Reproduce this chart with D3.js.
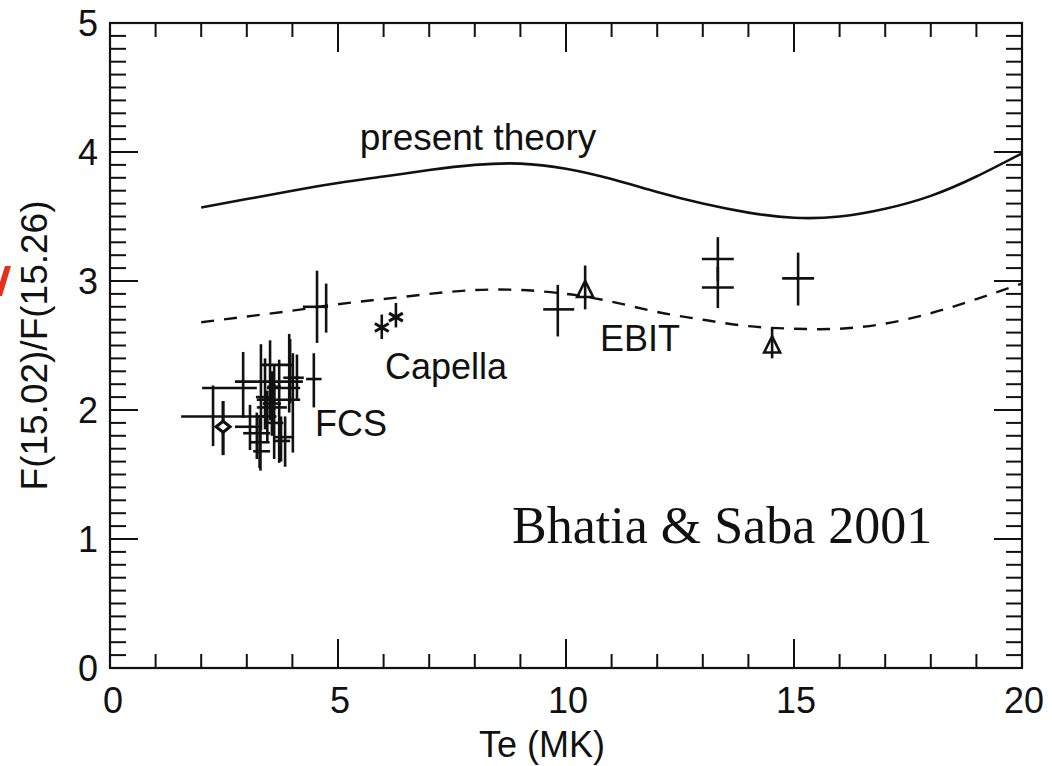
<!DOCTYPE html>
<html><head><meta charset="utf-8">
<script src="https://cdn.jsdelivr.net/npm/d3@7"></script>
<style>
html,body{margin:0;padding:0;background:#fff;}
svg{display:block;}
text{font-family:"Liberation Sans",Arial,Helvetica,sans-serif;fill:#111;}
</style></head>
<body>
<svg id="chart" width="1052" height="766"></svg>
<script>
// ---- data ----
const xTickLabels = [0, 5, 10, 15, 20];
const yTickLabels = [0, 1, 2, 3, 4, 5];

// "present theory" (solid) curve
const theoryT = [2, 3, 4, 5, 6, 7, 8, 9, 10, 11, 12, 13, 14, 15, 16, 17, 18, 19, 20];
const theoryR = [3.57, 3.635, 3.70, 3.76, 3.81, 3.86, 3.90, 3.91, 3.87, 3.79, 3.69, 3.60, 3.53, 3.49, 3.50, 3.56, 3.66, 3.81, 3.99];
// dashed curve
const dashT = [2, 3, 4, 5, 6, 7, 8, 9, 10, 11, 12, 13, 14, 15, 16, 17, 18, 19, 20];
const dashR = [2.68, 2.725, 2.77, 2.82, 2.86, 2.90, 2.93, 2.93, 2.90, 2.84, 2.76, 2.70, 2.65, 2.63, 2.63, 2.67, 2.75, 2.86, 2.98];

// cross data points with error bars
const crossX   = [9.82, 13.33, 13.33, 15.09, 4.54, 4.74, 4.47, 2.26, 2.92, 3.31, 3.51, 3.93, 4.01, 4.10, 3.07, 3.22, 3.30, 3.71, 3.84, 3.60, 3.45, 3.75, 3.40, 3.60, 3.28, 3.95, 3.55];
const crossY   = [2.78, 3.17, 2.95, 3.02, 2.80, 2.80, 2.24, 1.95, 2.17, 2.22, 2.35, 2.17, 2.08, 2.25, 1.87, 1.82, 1.68, 2.02, 1.79, 2.18, 1.95, 1.76, 2.10, 1.90, 1.75, 2.25, 2.05];
const crossXlo = [9.50, 12.98, 12.98, 14.74, 4.23, 4.70, 4.30, 1.56, 2.02, 2.74, 3.29, 3.44, 3.22, 3.95, 2.74, 2.92, 3.14, 3.22, 3.62, 3.45, 3.25, 3.60, 3.20, 3.40, 3.05, 3.80, 3.35];
const crossXhi = [10.18, 13.68, 13.68, 15.44, 4.78, 4.78, 4.64, 3.46, 3.22, 4.23, 4.01, 4.17, 4.17, 4.25, 3.33, 3.51, 3.51, 3.88, 4.01, 3.75, 3.65, 3.95, 3.60, 3.80, 3.50, 4.15, 3.75];
const crossYlo = [2.57, 3.00, 2.79, 2.81, 2.52, 2.60, 2.02, 1.72, 1.94, 1.84, 1.92, 1.98, 1.67, 2.08, 1.69, 1.62, 1.53, 1.59, 1.56, 2.00, 1.75, 1.60, 1.85, 1.62, 1.55, 2.05, 1.80];
const crossYhi = [2.97, 3.34, 3.11, 3.22, 3.08, 2.98, 2.44, 2.19, 2.45, 2.51, 2.54, 2.59, 2.44, 2.43, 2.04, 1.98, 1.84, 2.39, 1.95, 2.35, 2.15, 1.95, 2.40, 2.20, 1.95, 2.55, 2.30];

// diamond (FCS)
const diamondX = [2.48], diamondY = [1.87], diamondYlo = [1.65], diamondYhi = [2.07];
// triangles (EBIT)
const triX = [10.42, 14.52], triY = [2.93, 2.50], triYlo = [2.78, 2.40], triYhi = [3.12, 2.64];
// asterisks (Capella)
const astX = [5.96, 6.27], astY = [2.64, 2.72], astYlo = [2.55, 2.64], astYhi = [2.74, 2.83];

// ---- layout ----
const L = 110, R = 1022, T = 23, B = 668;
const svg = d3.select("#chart");
const x = d3.scaleLinear().domain([0, 20]).range([L, R]);
const y = d3.scaleLinear().domain([0, 5]).range([B, T]);
const ink = "#111";

// ticks (inward, mirrored)
const g = svg.append("g");
const majorX = 29, minorX = 14, majorY = 28, minorY = 16;
d3.range(1, 20, 1).forEach(v => {
  const len = (v % 5 === 0) ? majorX : minorX;
  g.append("line").attr("x1", x(v)).attr("x2", x(v)).attr("y1", B).attr("y2", B - len).attr("stroke", ink).attr("stroke-width", 2);
  g.append("line").attr("x1", x(v)).attr("x2", x(v)).attr("y1", T).attr("y2", T + len).attr("stroke", ink).attr("stroke-width", 2);
});
d3.range(1, 50, 1).forEach(i => {
  const v = i / 10;
  const len = (i % 10 === 0) ? majorY : minorY;
  g.append("line").attr("y1", y(v)).attr("y2", y(v)).attr("x1", L).attr("x2", L + len).attr("stroke", ink).attr("stroke-width", 2);
  g.append("line").attr("y1", y(v)).attr("y2", y(v)).attr("x1", R).attr("x2", R - len).attr("stroke", ink).attr("stroke-width", 2);
});
// frame
svg.append("rect").attr("x", L).attr("y", T).attr("width", R - L).attr("height", B - T)
  .attr("fill", "none").attr("stroke", ink).attr("stroke-width", 2.2);

// tick labels
svg.selectAll(".xl").data(xTickLabels).enter().append("text")
  .attr("x", d => x(d) + (d === 0 ? 3 : 2)).attr("y", 713).attr("text-anchor", "middle")
  .attr("font-size", 36).text(d => d);
svg.selectAll(".yl").data(yTickLabels).enter().append("text")
  .attr("x", 98).attr("y", d => y(d) + 13).attr("text-anchor", "end")
  .attr("font-size", 36).text(d => d);

// axis titles
svg.append("text").attr("x", 542).attr("y", 757).attr("text-anchor", "middle").attr("font-size", 36).text("Te (MK)");
svg.append("text").attr("transform", "translate(47," + ((T + B) / 2) + ") rotate(-90)")
  .attr("text-anchor", "middle").attr("font-size", 37).text("F(15.02)/F(15.26)");

// red cropped mark at the left edge
svg.append("path").attr("d", "M5,266L11,266L2,296L0,296L0,282Z").attr("fill", "#e4301c");

// curves
const line = d3.line().x(d => x(d[0])).y(d => y(d[1])).curve(d3.curveNatural);
svg.append("path").datum(d3.zip(theoryT, theoryR)).attr("d", line)
  .attr("fill", "none").attr("stroke", ink).attr("stroke-width", 2.6);
svg.append("path").datum(d3.zip(dashT, dashR)).attr("d", line)
  .attr("fill", "none").attr("stroke", ink).attr("stroke-width", 2.4).attr("stroke-dasharray", "13,10");

// cross error bars
const pts = svg.append("g").attr("stroke", ink).attr("stroke-width", 2.6).attr("fill", "none");
crossX.forEach((cx, i) => {
  pts.append("line").attr("x1", x(crossXlo[i])).attr("x2", x(crossXhi[i])).attr("y1", y(crossY[i])).attr("y2", y(crossY[i]));
  pts.append("line").attr("x1", x(cx)).attr("x2", x(cx)).attr("y1", y(crossYlo[i])).attr("y2", y(crossYhi[i]));
});
// diamond
diamondX.forEach((cx, i) => {
  pts.append("line").attr("x1", x(cx)).attr("x2", x(cx)).attr("y1", y(diamondYlo[i])).attr("y2", y(diamondYhi[i])).attr("stroke-width", 3.2);
  pts.append("path").attr("transform", `translate(${x(cx)},${y(diamondY[i])})`)
    .attr("d", "M-7,0L0,-5.5L7,0L0,5.5Z").attr("fill", "#fff").attr("stroke-width", 3);
});
// triangles
triX.forEach((cx, i) => {
  pts.append("line").attr("x1", x(cx)).attr("x2", x(cx)).attr("y1", y(triYlo[i])).attr("y2", y(triYhi[i]));
  pts.append("path").attr("transform", `translate(${x(cx)},${y(triY[i])})`)
    .attr("d", "M-8,7L0,-9L8,7Z").attr("fill", "none").attr("stroke-width", 2.6);
});
// asterisks
astX.forEach((cx, i) => {
  pts.append("line").attr("x1", x(cx)).attr("x2", x(cx)).attr("y1", y(astYlo[i])).attr("y2", y(astYhi[i]));
  const p = d3.path();
  [30, 150].forEach(a => {
    const r = 8, rad = a * Math.PI / 180;
    p.moveTo(-r * Math.cos(rad), -r * Math.sin(rad));
    p.lineTo(r * Math.cos(rad), r * Math.sin(rad));
  });
  pts.append("path").attr("transform", `translate(${x(cx)},${y(astY[i])})`).attr("d", p.toString()).attr("stroke-width", 3);
});

// annotations
svg.append("text").attr("x", 478).attr("y", 150).attr("text-anchor", "middle").attr("font-size", 37).text("present theory");
svg.append("text").attr("x", 385).attr("y", 379).attr("font-size", 36).text("Capella");
svg.append("text").attr("x", 315).attr("y", 436).attr("font-size", 36).text("FCS");
svg.append("text").attr("x", 600).attr("y", 351).attr("font-size", 36).text("EBIT");
svg.append("text").attr("x", 512).attr("y", 543).attr("font-size", 52)
  .style("font-family", "'Liberation Serif','Times New Roman',serif").text("Bhatia & Saba 2001");
</script>
</body></html>
